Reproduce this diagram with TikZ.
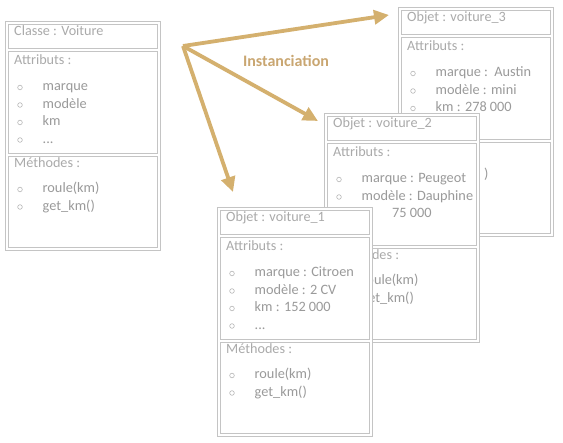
\documentclass[tikz,border=0pt]{standalone}
\usepackage{fontspec}
\setmainfont{Carlito}
\usetikzlibrary{arrows.meta, positioning}

\definecolor{cadregris}{HTML}{C4C4C4}
\definecolor{titregris}{HTML}{AAAAAA}
\definecolor{textegris}{HTML}{9A9A9A}
\definecolor{pucegris}{HTML}{B8B8B8}
\definecolor{ocre}{HTML}{D4B06E}
\definecolor{ocreclair}{HTML}{C9A671}

\tikzset{
  cadre/.style={draw=cadregris, line width=0.9pt, fill=white},
  titre/.style={anchor=base west, inner sep=0pt, text=titregris, font=\fontsize{14.2}{16}\selectfont},
  item/.style={anchor=base west, inner sep=0pt, text=textegris, font=\fontsize{14.3}{17}\selectfont},
  puce/.style={circle, draw=pucegris, line width=0.6pt, minimum size=4.6pt, inner sep=0pt},
  fleche/.style={draw=ocre, line width=3.8pt, -{Triangle[length=15pt,width=14pt]}},
}

% frames of one box (outer, title, attributes, methods)
\newcommand\cadreboite{%
  \draw[cadre] (0,0) rectangle (155,229);
  \draw[cadre] (3,3) rectangle (152,27);
  \draw[cadre] (3,30) rectangle (152,132);
  \draw[cadre] (3,135) rectangle (152,226);
}

\begin{document}
\begin{tikzpicture}[x=1pt, y=-1pt]
    \useasboundingbox (0,0) rectangle (563,443);

    % Class
    \begin{scope}[shift={(5,21)}]
        \cadreboite
        \node[titre] (c-titre) at (9,15) {Classe : Voiture};
        \node[titre] (c-attr) at (9,43.5) {Attributs :};
        \foreach \y in {70,87.5,105,122.5,172,189.5}
            \node[puce] (c-p\y) at (15,\y-3.5) {};
        \node[item] (c-a1) at (37.5,70) {marque};
        \node[item] (c-a2) at (37.5,87.5) {modèle};
        \node[item] (c-a3) at (37.5,105) {km};
        \node[item] (c-a4) at (37.5,122.5) {...};
        \node[titre] (c-meth) at (9,147) {Méthodes :};
        \node[item] (c-m1) at (37.5,172) {roule(km)};
        \node[item] (c-m2) at (37.5,189.5) {get\_km()};
    \end{scope}

    % Instanciation arrows
    \coordinate (inst) at (183,46);
    \coordinate (vers3) at (389,15);
    \coordinate (vers2) at (318,121);
    \coordinate (vers1) at (233,192);
    \draw[fleche] (inst) -- (vers3);
    \draw[fleche] (inst) -- (vers2);
    \draw[fleche] (inst) -- (vers1);
    \node[text=ocreclair, font=\fontsize{16}{18}\selectfont\bfseries] (inst-txt) at (286,61) {Instanciation};

    % Object voiture_3 (lower part hidden by voiture_2)
    \begin{scope}[shift={(398,7)}]
        \cadreboite
        \node[titre] (v3-titre) at (9,15) {Objet : voiture\_3};
        \node[titre] (v3-attr) at (9,43.5) {Attributs :};
        \foreach \y in {70,87.5,105}
            \node[puce] (v3-p\y) at (15,\y-3.5) {};
        \node[item] (v3-a1) at (37.5,70) {marque :\ \ Austin};
        \node[item] (v3-a2) at (37.5,87.5) {modèle : mini};
        \node[item] (v3-a3) at (37.5,105) {km : 278 000};
        \node[item] (v3-m1) at (86,172) {)};
    \end{scope}

    % Object voiture_2 (lower left hidden by voiture_1)
    \begin{scope}[shift={(324,113)}]
        \cadreboite
        \node[titre] (v2-titre) at (9,15) {Objet : voiture\_2};
        \node[titre] (v2-attr) at (9,43.5) {Attributs :};
        \foreach \y in {70,87.5}
            \node[puce] (v2-p\y) at (15,\y-3.5) {};
        \node[item] (v2-a1) at (37.5,70) {marque : Peugeot};
        \node[item] (v2-a2) at (37.5,87.5) {modèle : Dauphine};
        \node[item] (v2-a3) at (68,105) {75 000};
        \node[titre] (v2-meth) at (9,147) {Méthodes :};
        \node[item] (v2-m1) at (37.5,172) {roule(km)};
        \node[item] (v2-m2) at (37.5,189.5) {get\_km()};
    \end{scope}

    % Object voiture_1
    \begin{scope}[shift={(217,207)}]
        \cadreboite
        \node[titre] (v1-titre) at (9,15) {Objet : voiture\_1};
        \node[titre] (v1-attr) at (9,43.5) {Attributs :};
        \foreach \y in {70,87.5,105,122.5,172,189.5}
            \node[puce] (v1-p\y) at (15,\y-3.5) {};
        \node[item] (v1-a1) at (37.5,70) {marque : Citroen};
        \node[item] (v1-a2) at (37.5,87.5) {modèle : 2 CV};
        \node[item] (v1-a3) at (37.5,105) {km : 152 000};
        \node[item] (v1-a4) at (37.5,122.5) {...};
        \node[titre] (v1-meth) at (9,147) {Méthodes :};
        \node[item] (v1-m1) at (37.5,172) {roule(km)};
        \node[item] (v1-m2) at (37.5,189.5) {get\_km()};
    \end{scope}
\end{tikzpicture}
\end{document}
